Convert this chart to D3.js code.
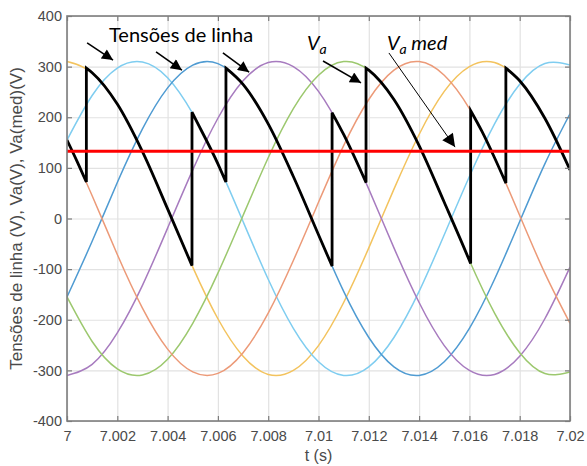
<!DOCTYPE html>
<html>
<head>
<meta charset="utf-8">
<script src="https://cdn.jsdelivr.net/npm/d3@7"></script>
<style>
    body { margin: 0; background: #fff; }
    svg text { font-family: "Liberation Sans", Arial, sans-serif; }
</style>
</head>
<body>
<div id="chart"></div>
<script>

// sample times (s)
var tGrid = [7.000, 7.001, 7.002, 7.003, 7.004, 7.005, 7.006, 7.007, 7.008, 7.009, 7.010,
             7.011, 7.012, 7.013, 7.014, 7.015, 7.016, 7.017, 7.018, 7.019, 7.020];

// line voltages (V) read at tGrid
var vYellow = [310, 288, 226, 132, 19, -96, -198, -272, -308, -300, -251, -166, -58, 58, 166, 251, 300, 308, 272, 198, 96];
var vCyan   = [155, 243, 297, 309, 278, 207, 108, -6, -120, -217, -283, -310, -293, -235, -144, -32, 83, 187, 265, 306, 303];
var vBlue   = [-155, -45, 71, 177, 258, 303, 306, 265, 187, 83, -32, -144, -235, -293, -310, -283, -217, -120, -6, 108, 207];
var vPurple = [-310, -288, -226, -132, -19, 96, 198, 272, 308, 300, 251, 166, 58, -58, -166, -251, -300, -308, -272, -198, -96];
var vGreen  = [-155, -243, -297, -309, -278, -207, -108, 6, 120, 217, 283, 310, 293, 235, 144, 32, -83, -187, -265, -306, -303];
var vOrange = [155, 45, -71, -177, -258, -303, -306, -265, -187, -83, 32, 144, 235, 293, 310, 283, 217, 120, 6, -108, -207];

// Va output, a repeated time is a vertical jump
var vaTimes  = [7.000, 7.0004, 7.00077,
                7.00077, 7.001, 7.002, 7.003, 7.004, 7.00497,
                7.00497, 7.005, 7.006, 7.00632,
                7.00632, 7.007, 7.008, 7.009, 7.010, 7.01054,
                7.01054, 7.011, 7.01189,
                7.01189, 7.012, 7.013, 7.014, 7.015, 7.016, 7.01605,
                7.01605, 7.0165, 7.017, 7.01745,
                7.01745, 7.018, 7.019, 7.020];
var vaValues = [155, 113, 72,
                297, 288, 226, 132, 19, -93,
                210, 207, 108, 72,
                297, 265, 187, 83, -32, -94,
                209, 166, 71,
                297, 293, 235, 144, 32, -83, -89,
                213, 172, 120, 70,
                297, 272, 198, 96];

var vaMed = 133;

var xTicks = [7, 7.002, 7.004, 7.006, 7.008, 7.01, 7.012, 7.014, 7.016, 7.018, 7.02];
var xTickLabels = ["7", "7.002", "7.004", "7.006", "7.008", "7.01", "7.012", "7.014", "7.016", "7.018", "7.02"];
var yTicks = [-400, -300, -200, -100, 0, 100, 200, 300, 400];
var yTickLabels = ["-400", "-300", "-200", "-100", "0", "100", "200", "300", "400"];

// annotation arrows [t1, v1, t2, v2]
var arrowsLinha = [[7.0008, 347, 7.00183, 313], [7.00354, 329, 7.00457, 293], [7.0062, 327, 7.00724, 289]];
var arrowVa = [7.01018, 311, 7.01169, 268];
var arrowMed = [7.0128, 327, 7.01543, 141];

var width = 587, height = 466;
var mLeft = 67, mRight = 570, mTop = 16, mBottom = 421;

var x = d3.scaleLinear().domain([7, 7.02]).range([mLeft, mRight]);
var y = d3.scaleLinear().domain([-400, 400]).range([mBottom, mTop]);

var svg = d3.select("#chart").append("svg")
    .attr("width", width)
    .attr("height", height);

var defs = svg.append("defs");
defs.append("clipPath").attr("id", "plot")
    .append("rect")
    .attr("x", mLeft).attr("y", mTop)
    .attr("width", mRight - mLeft).attr("height", mBottom - mTop);

defs.append("marker").attr("id", "head")
    .attr("markerUnits", "userSpaceOnUse")
    .attr("viewBox", "0 0 10 10")
    .attr("markerWidth", 14).attr("markerHeight", 11)
    .attr("refX", 10).attr("refY", 5)
    .attr("orient", "auto")
    .append("path").attr("d", "M0,0L10,5L0,10z").attr("fill", "#000");

defs.append("marker").attr("id", "headBig")
    .attr("markerUnits", "userSpaceOnUse")
    .attr("viewBox", "0 0 10 10")
    .attr("markerWidth", 16).attr("markerHeight", 13)
    .attr("refX", 10).attr("refY", 5)
    .attr("orient", "auto")
    .append("path").attr("d", "M0,0L10,5L0,10z").attr("fill", "#000");

// grid
svg.append("g")
    .attr("transform", "translate(0," + mBottom + ")")
    .call(d3.axisBottom(x).tickValues(xTicks).tickSize(-(mBottom - mTop)).tickFormat(""))
    .call(function(g) { g.select(".domain").remove(); })
    .selectAll("line").attr("stroke", "#e2e2e2").attr("stroke-width", 1.2);

svg.append("g")
    .attr("transform", "translate(" + mLeft + ",0)")
    .call(d3.axisLeft(y).tickValues(yTicks).tickSize(-(mRight - mLeft)).tickFormat(""))
    .call(function(g) { g.select(".domain").remove(); })
    .selectAll("line").attr("stroke", "#e2e2e2").attr("stroke-width", 1.2);

// line voltages
var series = [
    {values: vYellow, color: "#f3c35e"},
    {values: vCyan, color: "#7fcdf0"},
    {values: vBlue, color: "#4f9bd2"},
    {values: vPurple, color: "#a77bbf"},
    {values: vGreen, color: "#9cc86e"},
    {values: vOrange, color: "#ec9a78"}
];

var sine = d3.line()
    .x(function(d, i) { return x(tGrid[i]); })
    .y(function(d) { return y(d); })
    .curve(d3.curveNatural);

var plot = svg.append("g").attr("clip-path", "url(#plot)");

plot.selectAll("path.vline")
    .data(series)
    .enter().append("path")
    .attr("class", "vline")
    .attr("d", function(d) { return sine(d.values); })
    .attr("fill", "none")
    .attr("stroke", function(d) { return d.color; })
    .attr("stroke-width", 1.5);

// Va, split at the jumps
var segs = [], cur = [];
vaTimes.forEach(function(t, i) {
    if (i > 0 && t === vaTimes[i - 1]) {
        segs.push(cur);
        cur = [];
    }
    cur.push([t, vaValues[i]]);
});
segs.push(cur);

var vaLine = d3.line()
    .x(function(d) { return x(d[0]); })
    .y(function(d) { return y(d[1]); })
    .curve(d3.curveMonotoneX);

var vaPath = segs.map(function(s, i) {
    var p = vaLine(s);
    return i === 0 ? p : "L" + p.slice(1);
}).join("");

plot.append("path")
    .attr("d", vaPath)
    .attr("fill", "none")
    .attr("stroke", "#000")
    .attr("stroke-width", 2.8)
    .attr("stroke-linejoin", "miter");

// Va med
plot.append("line")
    .attr("x1", x(7)).attr("x2", x(7.02))
    .attr("y1", y(vaMed)).attr("y2", y(vaMed))
    .attr("stroke", "#ff0000")
    .attr("stroke-width", 3);

// axes, ticks inside
var tickColor = "#7d7d7d", labelColor = "#4a4a4a";

function styleAxis(g, showText) {
    g.select(".domain").remove();
    g.selectAll("line").attr("stroke", tickColor).attr("stroke-width", 1.2);
    if (showText) {
        g.selectAll("text").attr("fill", labelColor).style("font-size", "14.5px");
    } else {
        g.selectAll("text").remove();
    }
}

svg.append("g")
    .attr("transform", "translate(0," + mBottom + ")")
    .call(d3.axisBottom(x).tickValues(xTicks)
        .tickFormat(function(d, i) { return xTickLabels[i]; })
        .tickSizeInner(-5).tickSizeOuter(0).tickPadding(10))
    .call(styleAxis, true);

svg.append("g")
    .attr("transform", "translate(0," + mTop + ")")
    .call(d3.axisTop(x).tickValues(xTicks).tickSizeInner(-5).tickSizeOuter(0))
    .call(styleAxis, false);

svg.append("g")
    .attr("transform", "translate(" + mLeft + ",0)")
    .call(d3.axisLeft(y).tickValues(yTicks)
        .tickFormat(function(d, i) { return yTickLabels[i]; })
        .tickSizeInner(-5).tickSizeOuter(0).tickPadding(5))
    .call(styleAxis, true);

svg.append("g")
    .attr("transform", "translate(" + mRight + ",0)")
    .call(d3.axisRight(y).tickValues(yTicks).tickSizeInner(-5).tickSizeOuter(0))
    .call(styleAxis, false);

svg.append("rect")
    .attr("x", mLeft).attr("y", mTop)
    .attr("width", mRight - mLeft).attr("height", mBottom - mTop)
    .attr("fill", "none")
    .attr("stroke", tickColor)
    .attr("stroke-width", 1.6);

// axis titles
svg.append("text")
    .attr("x", (mLeft + mRight) / 2)
    .attr("y", 461)
    .attr("text-anchor", "middle")
    .attr("fill", labelColor)
    .style("font-size", "16px")
    .text("t (s)");

svg.append("text")
    .attr("transform", "translate(22," + (mTop + mBottom) / 2 + ") rotate(-90)")
    .attr("text-anchor", "middle")
    .attr("fill", labelColor)
    .style("font-size", "17px")
    .text("Tensões de linha (V), Va(V), Va(med)(V)");

// annotations
var annFont = "Lato, 'Open Sans', sans-serif";

svg.append("text")
    .attr("x", x(7.00167)).attr("y", y(349))
    .style("font-family", annFont)
    .style("font-size", "20px")
    .attr("fill", "#000")
    .text("Tensões de linha");

svg.selectAll("line.arr")
    .data(arrowsLinha.concat([arrowVa]))
    .enter().append("line")
    .attr("class", "arr")
    .attr("x1", function(d) { return x(d[0]); })
    .attr("y1", function(d) { return y(d[1]); })
    .attr("x2", function(d) { return x(d[2]); })
    .attr("y2", function(d) { return y(d[3]); })
    .attr("stroke", "#000")
    .attr("stroke-width", 1.6)
    .attr("marker-end", "url(#head)");

var va = svg.append("text")
    .attr("x", x(7.00954)).attr("y", y(333))
    .style("font-family", annFont)
    .style("font-size", "20px")
    .style("font-style", "italic")
    .attr("fill", "#000");
va.append("tspan").text("V");
va.append("tspan").attr("dy", 4).style("font-size", "14px").text("a");

var vm = svg.append("text")
    .attr("x", x(7.01272)).attr("y", y(333))
    .style("font-family", annFont)
    .style("font-size", "20px")
    .style("font-style", "italic")
    .attr("fill", "#000");
vm.append("tspan").text("V");
vm.append("tspan").attr("dy", 4).style("font-size", "14px").text("a");
vm.append("tspan").attr("dy", -4).text(" med");

svg.append("line")
    .attr("x1", x(arrowMed[0])).attr("y1", y(arrowMed[1]))
    .attr("x2", x(arrowMed[2])).attr("y2", y(arrowMed[3]))
    .attr("stroke", "#000")
    .attr("stroke-width", 1)
    .attr("marker-end", "url(#headBig)");

</script>
</body>
</html>
